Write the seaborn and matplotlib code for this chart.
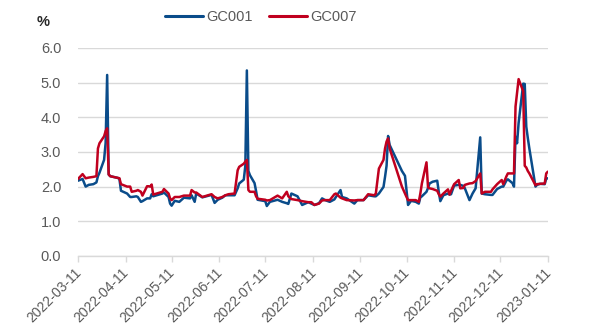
import matplotlib
matplotlib.use("Agg")
import matplotlib.pyplot as plt
import matplotlib.dates as mdates
import matplotlib.transforms as mtransforms
import pandas as pd
import seaborn as sns

# Trading dates and daily weighted repo rates (%)
dates = [
    "2022-03-11", "2022-03-14", "2022-03-16", "2022-03-18", "2022-03-21", "2022-03-23",
    "2022-03-24", "2022-03-25", "2022-03-28", "2022-03-29", "2022-03-30", "2022-03-31",
    "2022-04-01", "2022-04-06", "2022-04-07", "2022-04-08", "2022-04-11", "2022-04-12",
    "2022-04-14", "2022-04-15", "2022-04-18", "2022-04-19", "2022-04-21", "2022-04-22",
    "2022-04-25", "2022-04-26", "2022-04-27", "2022-04-28", "2022-04-29", "2022-05-05",
    "2022-05-06", "2022-05-09", "2022-05-10", "2022-05-11", "2022-05-13", "2022-05-16",
    "2022-05-19", "2022-05-23", "2022-05-24", "2022-05-26", "2022-05-27", "2022-05-31",
    "2022-06-06", "2022-06-08", "2022-06-10", "2022-06-13", "2022-06-15", "2022-06-17",
    "2022-06-21", "2022-06-23", "2022-06-24", "2022-06-27", "2022-06-28", "2022-06-29",
    "2022-06-30", "2022-07-01", "2022-07-04", "2022-07-05", "2022-07-06", "2022-07-11",
    "2022-07-12", "2022-07-14", "2022-07-19", "2022-07-22", "2022-07-25", "2022-07-26",
    "2022-07-28", "2022-08-01", "2022-08-04", "2022-08-08", "2022-08-10", "2022-08-12",
    "2022-08-15", "2022-08-17", "2022-08-19", "2022-08-22", "2022-08-25", "2022-08-26",
    "2022-08-29", "2022-08-30", "2022-09-02", "2022-09-07", "2022-09-09", "2022-09-13",
    "2022-09-16", "2022-09-20", "2022-09-21", "2022-09-23", "2022-09-26", "2022-09-27",
    "2022-09-28", "2022-09-29", "2022-09-30", "2022-10-08", "2022-10-09", "2022-10-10",
    "2022-10-11", "2022-10-12", "2022-10-14", "2022-10-17", "2022-10-19", "2022-10-20",
    "2022-10-21", "2022-10-24", "2022-10-25", "2022-10-26", "2022-10-28", "2022-10-31",
    "2022-11-01", "2022-11-02", "2022-11-04", "2022-11-07", "2022-11-08", "2022-11-09",
    "2022-11-11", "2022-11-14", "2022-11-15", "2022-11-17", "2022-11-18", "2022-11-21",
    "2022-11-23", "2022-11-25", "2022-11-28", "2022-11-29", "2022-12-01", "2022-12-05",
    "2022-12-06", "2022-12-09", "2022-12-12", "2022-12-13", "2022-12-15", "2022-12-16",
    "2022-12-19", "2022-12-20", "2022-12-21", "2022-12-22", "2022-12-23", "2022-12-26",
    "2022-12-27", "2022-12-28", "2022-12-29", "2022-12-30", "2023-01-03", "2023-01-04",
    "2023-01-06", "2023-01-09", "2023-01-10", "2023-01-11",
]

gc001 = [
    2.17, 2.22, 2.00, 2.05, 2.07, 2.12,
    2.30, 2.40, 2.77, 3.26, 5.22, 2.35,
    2.30, 2.25, 2.22, 1.88, 1.82, 1.80,
    1.70, 1.70, 1.72, 1.70, 1.56, 1.58,
    1.66, 1.66, 1.66, 1.78, 1.72, 1.80,
    1.83, 1.70, 1.51, 1.45, 1.59, 1.56,
    1.68, 1.66, 1.75, 1.56, 1.80, 1.69,
    1.76, 1.53, 1.62, 1.68, 1.75, 1.75,
    1.75, 1.95, 2.09, 2.20, 2.60, 5.35,
    2.45, 2.33, 2.10, 1.87, 1.62, 1.58,
    1.44, 1.56, 1.62, 1.56, 1.52, 1.50,
    1.80, 1.72, 1.47, 1.55, 1.51, 1.47,
    1.52, 1.66, 1.61, 1.56, 1.63, 1.70,
    1.90, 1.70, 1.66, 1.51, 1.61, 1.61,
    1.75, 1.72, 1.72, 1.80, 1.99, 2.28,
    2.60, 3.46, 3.20, 2.45, 2.38, 2.31,
    1.90, 1.47, 1.59, 1.56, 1.51, 1.69,
    1.72, 1.85, 1.96, 2.09, 2.14, 2.17,
    1.85, 1.58, 1.75, 1.80, 1.77, 1.78,
    2.03, 2.05, 2.05, 2.02, 1.95, 1.61,
    1.80, 1.95, 3.42, 1.80, 1.78, 1.76,
    1.76, 1.93, 2.00, 2.00, 2.17, 2.21,
    2.10, 2.00, 3.44, 3.25, 3.83, 4.97,
    4.96, 3.73, 3.40, 3.10, 2.00, 2.05,
    2.08, 2.07, 2.23, 2.24,
]

gc007 = [
    2.22, 2.36, 2.24, 2.26, 2.28, 2.30,
    3.10, 3.25, 3.45, 3.60, 3.68, 2.35,
    2.30, 2.25, 2.24, 2.07, 2.02, 2.00,
    2.00, 1.85, 1.88, 1.90, 1.85, 1.74,
    2.01, 2.01, 2.00, 2.06, 1.77, 1.85,
    1.93, 1.80, 1.66, 1.61, 1.70, 1.70,
    1.74, 1.74, 1.90, 1.83, 1.83, 1.70,
    1.78, 1.70, 1.66, 1.70, 1.75, 1.78,
    1.80, 2.47, 2.57, 2.66, 2.72, 2.77,
    1.90, 1.85, 1.85, 1.72, 1.65, 1.62,
    1.60, 1.61, 1.74, 1.66, 1.85, 1.72,
    1.64, 1.61, 1.58, 1.55, 1.55, 1.47,
    1.51, 1.60, 1.61, 1.61, 1.78, 1.80,
    1.68, 1.66, 1.61, 1.60, 1.61, 1.61,
    1.78, 1.75, 1.80, 2.52, 2.77, 3.10,
    3.30, 3.39, 3.10, 2.00, 1.90, 1.80,
    1.70, 1.61, 1.61, 1.61, 1.56, 1.80,
    2.09, 2.70, 1.98, 1.95, 1.93, 1.88,
    1.78, 1.71, 1.80, 1.92, 1.77, 1.88,
    2.07, 2.19, 1.95, 1.96, 2.05, 2.09,
    2.10, 2.16, 2.38, 1.80, 1.85, 1.85,
    1.92, 2.07, 2.19, 2.07, 2.29, 2.38,
    2.38, 2.38, 4.31, 4.70, 5.10, 4.75,
    2.60, 2.55, 2.45, 2.38, 2.04, 2.07,
    2.08, 2.09, 2.38, 2.43,
]

series_names = ["GC001", "GC007"]
series_colors = ["#0a4c8a", "#c0001f"]
y_ticks = [0.0, 1.0, 2.0, 3.0, 4.0, 5.0, 6.0]
x_tick_dates = pd.date_range("2022-03-11", "2023-01-11", freq=pd.DateOffset(months=1))

df = pd.DataFrame({
    "date": pd.to_datetime(dates * 2),
    "rate": gc001 + gc007,
    "series": [series_names[0]] * len(dates) + [series_names[1]] * len(dates),
})

sns.set_theme(style="white")
plt.rcParams["font.family"] = ["Liberation Sans", "DejaVu Sans"]

text_gray = "#595959"
grid_gray = "#d9d9d9"

fig = plt.figure(figsize=(5.89, 3.35), dpi=100)
ax = fig.add_axes([0.1324, 0.236, 0.7976, 0.621])

sns.lineplot(
    data=df, x="date", y="rate", hue="series",
    palette=dict(zip(series_names, series_colors)),
    linewidth=1.8, ax=ax, legend=False,
)

ax.set_ylim(0, 6)
ax.set_yticks(y_ticks)
ax.set_yticklabels([f"{v:.1f}" for v in y_ticks])
ax.set_xlim(pd.Timestamp("2022-03-11"), pd.Timestamp("2023-01-11"))
ax.set_xticks(x_tick_dates)
ax.xaxis.set_major_formatter(mdates.DateFormatter("%Y-%m-%d"))

ax.yaxis.grid(True, color=grid_gray, linewidth=1.0)
ax.set_axisbelow(True)
for side in ["top", "right", "left"]:
    ax.spines[side].set_visible(False)
ax.spines["bottom"].set_color(grid_gray)
ax.spines["bottom"].set_linewidth(1.0)

ax.tick_params(axis="y", length=0, pad=12, labelsize=10.5, labelcolor=text_gray)
ax.tick_params(axis="x", length=4, width=1.0, color=grid_gray, pad=3,
               labelsize=10, labelcolor=text_gray, direction="out", bottom=True)
shift = mtransforms.ScaledTranslation(-4 / 100, 0, fig.dpi_scale_trans)
for lbl in ax.get_xticklabels():
    lbl.set_rotation(45)
    lbl.set_ha("right")
    lbl.set_va("top")
    lbl.set_rotation_mode("anchor")
    lbl.set_transform(lbl.get_transform() + shift)

ax.set_xlabel("")
ax.set_ylabel("")

fig.text(43 / 589, 1 - 22 / 335, "%", ha="center", va="center",
         fontsize=10.5, fontweight="bold", color="#262626")

handles = [plt.Line2D([0], [0], color=c, linewidth=2.2) for c in series_colors]
fig.legend(handles, series_names, loc="center", bbox_to_anchor=(0.443, 0.949),
           ncol=2, frameon=False, fontsize=10.5, handlelength=2.6,
           handletextpad=0.25, columnspacing=1.1, labelcolor=text_gray)

fig.savefig("out.png", dpi=100)
